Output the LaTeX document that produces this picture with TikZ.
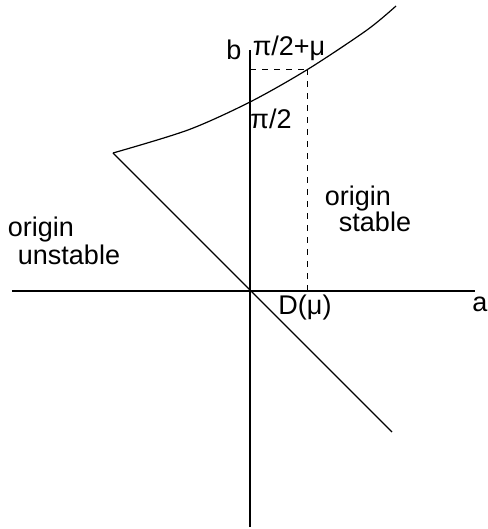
\documentclass[tikz,border=0pt]{standalone}
\usepackage{fontspec}
\setmainfont{Liberation Sans}
\begin{document}
\begin{tikzpicture}[x = 50pt, y = 50pt, font = \fontsize{13.5}{15}\selectfont, inner sep = 1pt]
		\useasboundingbox (-2.50,-2.38) rectangle (2.37,2.91);
		\draw [semithick] (-2.38,0) -- (2.25,0);
		\draw [semithick] (0,-2.36) -- (0,2.41) node [left = 3pt] {b};
		\coordinate (corner) at (-1.37,1.38);
		\coordinate (bmu) at (0.575,2.215);
		\draw [semithick] (corner) -- (1.42,-1.41);
		\draw [semithick, smooth] plot coordinates {(-1.37,1.38) (-0.62,1.61) (0,1.89) (0.575,2.215) (1.17,2.61) (1.46,2.85)};
		\draw [dashed] (bmu) -- (0.575,0);
		\draw [dashed] (0,2.215) -- (bmu);
		\node at (2.30,-0.13) {a};
		\node at (0.39,2.43) {π/2+μ};
		\node at (0.21,1.72) {π/2};
		\node at (0.55,-0.17) {D(μ)};
		\node at (-2.09,0.61) {origin};
		\node at (-1.81,0.36) {unstable};
		\node at (1.08,0.92) {origin};
		\node at (1.25,0.69) {stable};
	\end{tikzpicture}
\end{document}
